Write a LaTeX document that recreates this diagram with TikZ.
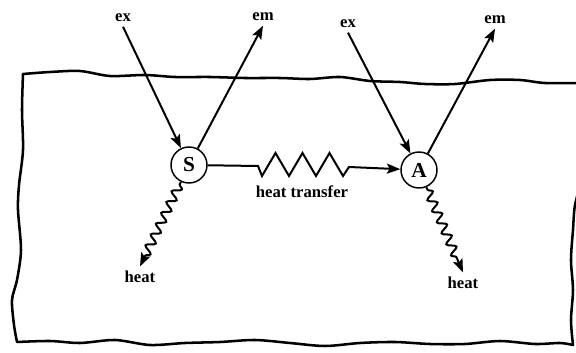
\documentclass[tikz,border=0pt]{standalone}
\usepackage{fontspec}
\setmainfont{Liberation Serif}
\usetikzlibrary{arrows.meta,decorations.pathmorphing}

\begin{document}
\begin{tikzpicture}[x=0.75pt,y=0.75pt,yscale=-1,xscale=1,
  every node/.style={font=\bfseries\fontsize{12.5}{14}\selectfont},
  body/.style={draw,circle,line width=1.1pt,minimum size=27pt,inner sep=0pt,font=\bfseries\fontsize{16}{18}\selectfont},
  ray/.style={line width=1.5pt,-{Stealth[length=10pt,width=7.5pt,inset=2pt]}},
  wavy/.style={ray,decorate,decoration={snake,amplitude=3.2pt,segment length=9pt,pre length=2pt,post length=8pt}},
  rim/.style={line width=1.9pt,line join=round}]

\clip (0,0) rectangle (576,353);

% hand drawn outline of the surroundings
\draw [rim] plot [smooth] coordinates {(582,83) (545,83) (520,80) (490,80) (455,84) (425,84) (400,82) (370,81) (340,77) (310,79) (280,78) (245,78) (210,77) (175,77) (145,75) (110,76) (80,71) (50,72) (23,74)}
  -- plot [smooth] coordinates {(23,74) (22,110) (23,150) (19,185) (18,210) (21,250) (17,280) (12,300) (14,325) (17,342)}
  -- plot [smooth] coordinates {(17,342) (50,341) (80,343) (115,340) (150,345) (185,343) (220,342) (255,340) (290,343) (325,346) (360,343) (395,342) (430,344) (465,344) (500,341) (535,344) (560,343) (573,345)}
  -- plot [smooth] coordinates {(573,345) (571,320) (573,290) (571,260) (573,230) (575,205) (582,180)};

% the two bodies
\node [body] (S) at (189,165) {S};
\node [body] (A) at (419,170) {A};

\node (ex1) at (123,18) {ex};
\node (em1) at (263,17) {em};
\node (ex2) at (348,24) {ex};
\node (em2) at (495,20) {em};
\node (heat1) at (140,277) {heat};
\node (heat2) at (463,283) {heat};
\node (ht) at (302,192) {heat transfer};

% radiation in and out
\draw [ray] (ex1.south) -- (S);
\draw [ray] (S) -- (em1.south);
\draw [ray] (ex2.south) -- (A);
\draw [ray] (A) -- (em2.south);

% heat losses
\draw [wavy] (S) -- (heat1.north);
\draw [wavy] (A) -- (heat2.north);

% heat transfer from S to A
\draw [ray] (S) -- (258,166) -- ++(4,10) \foreach \k in {1,2,3} { -- ++(13.5,-23) -- ++(13.5,23) } -- ++(6,-9) -- (A);

\end{tikzpicture}
\end{document}
